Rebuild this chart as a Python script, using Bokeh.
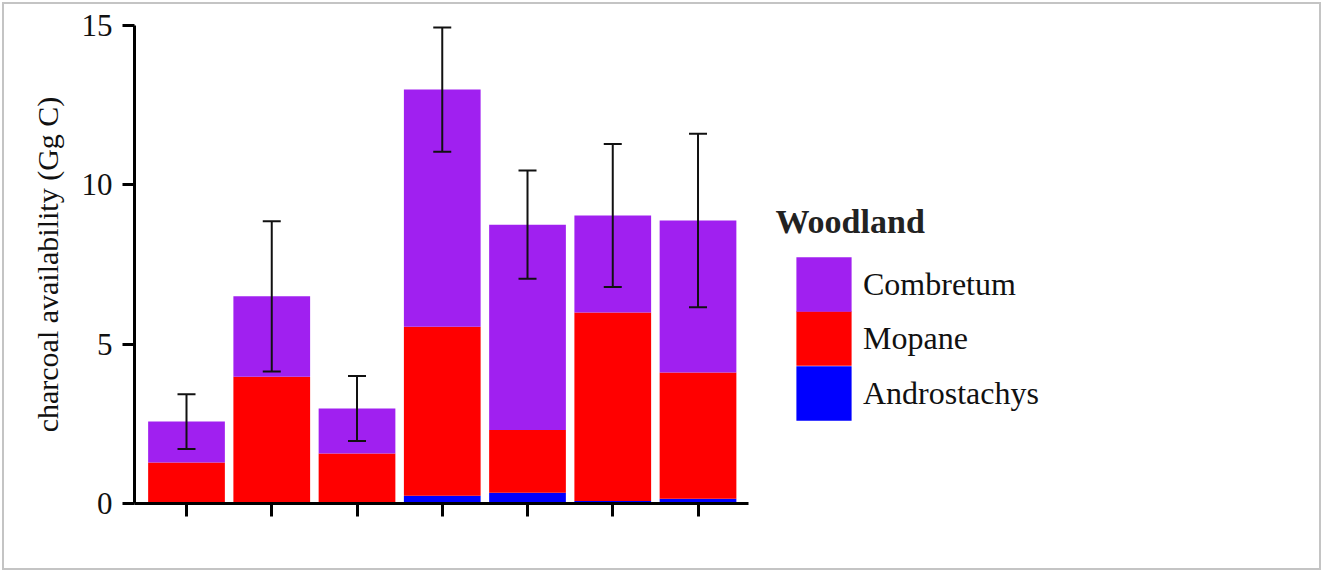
from bokeh.plotting import figure
from bokeh.models import (ColumnDataSource, Range1d, FixedTicker, Whisker, TeeHead,
                          Legend, LegendItem, Label)
from bokeh.embed import file_html
from bokeh.resources import INLINE

# ---- data ----
sites = [0, 1, 2, 3, 4, 5, 6]
androstachys = [0.0, 0.0, 0.0, 0.24, 0.34, 0.08, 0.15]
mopane = [1.29, 3.98, 1.57, 5.31, 1.97, 5.91, 3.96]
combretum = [1.28, 2.52, 1.41, 7.44, 6.44, 3.05, 4.77]
error = [0.86, 2.36, 1.02, 1.95, 1.70, 2.245, 2.72]
series_names = ["Androstachys", "Mopane", "Combretum"]
series_colors = ["#0000FF", "#FF0000", "#A020F0"]
y_ticks = [0, 5, 10, 15]

totals = [a + m + c for a, m, c in zip(androstachys, mopane, combretum)]
source = ColumnDataSource(dict(
    x=sites, Androstachys=androstachys, Mopane=mopane, Combretum=combretum,
    upper=[t + e for t, e in zip(totals, error)],
    lower=[t - e for t, e in zip(totals, error)],
))

FONT = "Liberation Serif"
X_START, X_AXIS_END = -0.61, 6.59

p = figure(width=1319, height=568, output_backend="svg", toolbar_location=None,
           x_range=Range1d(X_START, 13.337), y_range=Range1d(0, 15))
p.min_border_left = 130
p.min_border_top = 21
p.min_border_bottom = 69
p.min_border_right = 0
p.outline_line_color = None
p.grid.visible = False
p.background_fill_color = "white"
p.border_fill_color = "white"
p.styles = {"margin": "2px", "border": "2px solid #c4c4c4"}

renderers = p.vbar_stack(series_names, x="x", width=0.9, color=series_colors,
                         line_color=None, source=source)

wh = Whisker(source=source, base="x", upper="upper", lower="lower", dimension="height",
             line_color="#111111", line_width=2, level="overlay",
             upper_head=TeeHead(size=18, line_color="#111111", line_width=2),
             lower_head=TeeHead(size=18, line_color="#111111", line_width=2))
p.add_layout(wh)

# axes
xa = p.xaxis[0]
xa.bounds = (X_START, X_AXIS_END)
xa.ticker = FixedTicker(ticks=sites)
xa.major_label_overrides = {s: "" for s in sites}
xa.major_tick_in = 0
xa.major_tick_out = 13
xa.minor_tick_line_color = None
xa.axis_line_width = 3
xa.major_tick_line_width = 3
xa.axis_line_color = "black"
xa.major_tick_line_color = "black"

ya = p.yaxis[0]
ya.ticker = FixedTicker(ticks=y_ticks)
ya.major_tick_in = 0
ya.major_tick_out = 12
ya.minor_tick_line_color = None
ya.axis_line_width = 3
ya.major_tick_line_width = 3
ya.axis_line_color = "black"
ya.major_tick_line_color = "black"
ya.major_label_text_font = FONT
ya.major_label_text_font_size = "31px"
ya.major_label_text_color = "#111111"
ya.major_label_standoff = 10
ya.axis_label = "charcoal availability (Gg C)"
ya.axis_label_text_font = FONT
ya.axis_label_text_font_size = "30px"
ya.axis_label_text_font_style = "normal"
ya.axis_label_text_color = "#111111"
ya.axis_label_standoff = 15

# legend: one single-item legend per series, stacked so the swatches touch
legend_rows = {"Combretum": 185, "Mopane": 131, "Androstachys": 76}
for name, r in zip(series_names, renderers):
    lg = Legend(items=[LegendItem(label=name, renderers=[r])],
                location=(655, legend_rows[name]), orientation="vertical",
                glyph_width=69, glyph_height=68, spacing=0, padding=0, margin=0,
                label_standoff=5, label_text_font=FONT, label_text_font_size="32px",
                label_text_color="#111111", border_line_color=None,
                background_fill_color=None, background_fill_alpha=0)
    p.add_layout(lg)

title = Label(x=641, y=282, x_units="screen", y_units="screen", text="Woodland",
              text_font=FONT, text_font_size="34px", text_font_style="bold",
              text_color="#222222", text_baseline="alphabetic")
p.add_layout(title)

open("out.html", "w").write(file_html(p, INLINE))
